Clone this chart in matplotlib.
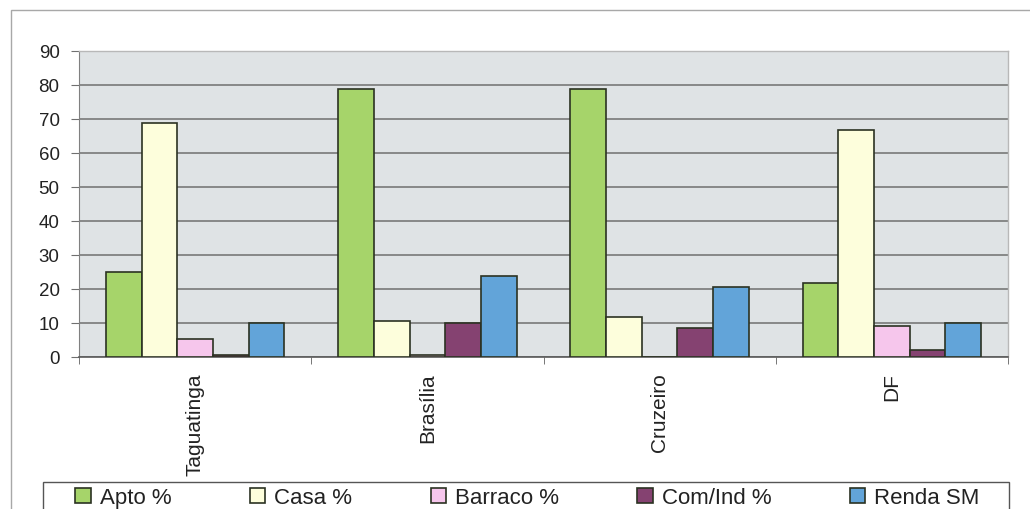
import numpy as np
import matplotlib
matplotlib.use("Agg")
import matplotlib.pyplot as plt
from matplotlib.patches import Rectangle
from matplotlib.ticker import FixedLocator

plt.rcParams['font.family'] = ['Liberation Sans', 'DejaVu Sans']

# Data
regions = ["Taguatinga", "Brasília", "Cruzeiro", "DF"]
series_names = ["Apto %", "Casa %", "Barraco %", "Com/Ind %", "Renda SM"]
apto = [25.1, 78.7, 78.7, 21.9]
casa = [68.8, 10.6, 11.9, 66.7]
barraco = [5.3, 0.5, 0.0, 9.2]
com_ind = [0.5, 10.0, 8.6, 2.0]
renda = [10.0, 23.7, 20.5, 10.0]
y_ticks = [0, 10, 20, 30, 40, 50, 60, 70, 80, 90]

series = [apto, casa, barraco, com_ind, renda]
colors = ["#a6d46a", "#fdfedc", "#f6c6ec", "#854271", "#62a4d9"]

W, H = 1030, 510
fig = plt.figure(figsize=(W / 100, H / 100), dpi=100)

# outer chart border
fig.patches.append(Rectangle((11 / W, -0.05), 1.1, 1 - 11 / H + 0.05,
                             transform=fig.transFigure, fill=False,
                             edgecolor="#a8a8a8", linewidth=1.0))

ax = fig.add_axes([79 / W, 1 - 358 / H, (1008 - 79) / W, (358 - 52) / H])
ax.set_facecolor("#dfe3e5")

x = np.arange(len(regions))
bw = 1 / 6.5
for i, (vals, c, name) in enumerate(zip(series, colors, series_names)):
    ax.bar(x + (i - 2) * bw, vals, width=bw, color=c, edgecolor="#2b3222",
           linewidth=1.2, label=name, zorder=3)

ax.set_xlim(-0.5, len(regions) - 0.5)
ax.set_ylim(0, 90)
ax.yaxis.set_major_locator(FixedLocator(y_ticks))
ax.grid(axis="y", color="#6f6f6f", linewidth=1.1, zorder=1)
ax.set_axisbelow(True)

ax.set_xticks(x)
ax.set_xticklabels(regions, rotation=90, fontsize=15, color="#222222")
ax.xaxis.set_minor_locator(FixedLocator(np.arange(-0.5, len(regions), 1.0)))
ax.tick_params(axis="x", which="major", length=0, pad=11)
ax.tick_params(axis="x", which="minor", length=5, color="#606060", direction="out")
ax.tick_params(axis="y", length=6, color="#707070", pad=8, labelsize=13.5,
               labelcolor="#222222")

for side in ("top", "right"):
    ax.spines[side].set_color("#b8b8b8")
    ax.spines[side].set_linewidth(1.0)
ax.spines["left"].set_color("#808080")
ax.spines["bottom"].set_color("#5a5a5a")
ax.spines["bottom"].set_linewidth(1.2)

# legend box, running past the lower edge of the chart
fig.patches.append(Rectangle((43 / W, -0.1), (1009 - 43) / W, 0.1 + 1 - 483 / H,
                             transform=fig.transFigure, fill=False,
                             edgecolor="#555555", linewidth=1.0))

handles, labels = ax.get_legend_handles_labels()
leg = fig.legend(handles, labels, loc="upper left", ncol=5, mode="expand",
                 bbox_to_anchor=(71 / W, 0, (984 - 71) / W, 1 - 484 / H),
                 fontsize=16, frameon=False, borderpad=0.2,
                 handlelength=0.7, handleheight=0.7, handletextpad=0.4,
                 borderaxespad=0)
for t in leg.get_texts():
    t.set_color("#222222")

fig.savefig("out.png", dpi=100)
